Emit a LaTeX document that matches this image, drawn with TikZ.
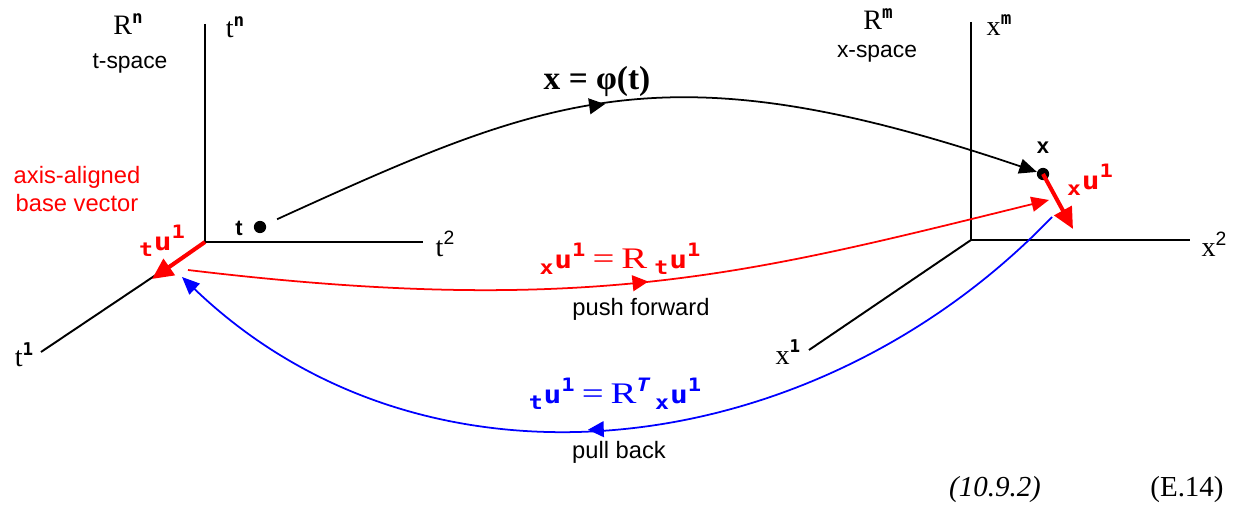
\documentclass[tikz,border=0pt]{standalone}
\usepackage{fontspec}
\setmainfont{Liberation Serif}
\newfontfamily\sansf{Liberation Sans}
\newfontfamily\monof{DejaVu Sans Mono}
\newfontfamily\wmono[FakeStretch=1.2]{DejaVu Sans Mono Bold}
\newfontfamily\wmonoit[FakeStretch=1.2]{DejaVu Sans Mono Bold Oblique}
\newfontfamily\wser[FakeStretch=1.3]{Liberation Serif}
\usetikzlibrary{arrows.meta,decorations.markings}
\newcommand\fs[1]{\fontsize{#1}{#1}\selectfont}
\newcommand\ubv[1]{\raisebox{-3.5pt}{\fs{11}\wmono #1}\kern0.5pt{\fs{14}\wmono u}\raisebox{7pt}{\fs{10.5}\wmono 1}}
\newcommand\supm[1]{\raisebox{6.5pt}{\fs{10}\monof\bfseries #1}}
\newcommand\eqR{{\fs{17}\wser R}}
\newcommand\eqEq{{\fs{17}\wser =}}
\begin{document}
\begin{tikzpicture}[x=0.02cm,y=-0.02cm,
  axis/.style={line width=1.1pt,black},
  conn/.style={line width=1pt},
  vecr/.style={line width=2.3pt,red,-{Triangle[length=12pt,width=11pt]}},
  endtip/.style={-{Triangle[length=10pt,width=8.5pt]}},
  midarrow/.style={postaction={decorate,decoration={markings,mark=at position #1 with {\arrow{Triangle[length=9pt,width=9pt]}}}}},
  sanslbl/.style={font=\sansf\fs{13.5}},
  axlbl/.style={font=\fs{16},inner sep=0pt},
  dotnode/.style={circle,fill=black,inner sep=0pt,minimum size=7pt}]
\useasboundingbox (0,0) rectangle (1241,510);
% ---------- t-space ----------
\coordinate (O1) at (205,242);
\coordinate (tn) at (205,24);
\coordinate (t2) at (423,242);
\coordinate (t1) at (41,352);
\draw[axis] (tn) -- (O1) -- (t2);
\draw[axis] (O1) -- (t1);
\node[axlbl] (ltn) at (235,27) {t\supm{n}};
\node[axlbl] (lt2) at (445,244) {t\raisebox{6.5pt}{\sansf\fs{11}2}};
\node[axlbl] (lt1) at (24,355) {t\supm{1}};
\node[axlbl] (lRn) at (128,24) {R\supm{n}};
\node[sanslbl,font=\sansf\fs{13}] (lts) at (130,63) {t-space};
\node[red,align=center,font=\sansf\fontsize{13.5}{16}\selectfont] (lav) at (77,189) {axis-aligned\\base vector};
\coordinate (tuend) at (152,279);
\draw[vecr] (O1) -- (tuend);
\node[red,inner sep=0pt] (ltu) at (162,241) {\ubv{t}};
\node[dotnode] (tdot) at (260,227) {};
\node[font=\sansf\bfseries\fs{12.5}] (ltl) at (239,228) {t};
% ---------- x-space ----------
\coordinate (O2) at (971,240);
\coordinate (xm) at (971,22);
\coordinate (x2) at (1190,240);
\coordinate (x1) at (809,350);
\draw[axis] (xm) -- (O2) -- (x2);
\draw[axis] (O2) -- (x1);
\node[axlbl] (lxm) at (999,25) {x\supm{m}};
\node[axlbl] (lx2) at (1214,244) {x\raisebox{6.5pt}{\sansf\fs{11}2}};
\node[axlbl] (lx1) at (788,352) {x\supm{1}};
\node[axlbl] (lRm) at (878,19) {R\supm{m}};
\node[sanslbl,font=\sansf\fs{13}] (lxs) at (877,54) {x-space};
\node[dotnode] (xdot) at (1043,174) {};
\node[font=\sansf\bfseries\fs{12.5}] (lxl) at (1043,148) {x};
\coordinate (xuend) at (1073,229);
\draw[vecr] (xdot.center) -- (xuend);
\node[red,inner sep=0pt] (lxu) at (1090,180) {\ubv{x}};
% ---------- mapping phi ----------
\draw[conn,endtip,midarrow=0.45,shorten <=7pt] (tdot) .. controls (550,95) and (665,46) .. (xdot);
\node[inner sep=0pt] (lphi) at (597,81) {\fs{19}\bfseries x = φ(t)};
% ---------- push forward ----------
\coordinate (pfs) at (188,270);
\coordinate (pfe) at (1049,200);
\draw[conn,red,endtip,midarrow=0.53] (pfs) .. controls (588,318) and (748,274) .. (pfe);
\node[red,inner sep=0pt] (lpf) at (620,259) {\ubv{x}\kern4pt\eqEq\kern4pt\eqR\kern4pt\ubv{t}};
\node[sanslbl] (lpfw) at (641,309) {push forward};
% ---------- pull back ----------
\coordinate (pbs) at (1052,217);
\coordinate (pbe) at (182,277);
\draw[conn,blue,endtip,midarrow=0.54] (pbs) .. controls (816,463) and (428,513) .. (pbe);
\node[blue,inner sep=0pt] (lpb) at (615,394) {\ubv{t}\kern4pt\eqEq\kern4pt\eqR\raisebox{7pt}{\fs{10.5}\wmonoit T}\kern3pt\ubv{x}};
\node[sanslbl] (lpbk) at (619,452) {pull back};
% ---------- equation numbers ----------
\node[font=\fs{16.5}\itshape] (eq1) at (995,490) {(10.9.2)};
\node[font=\fs{16.5}] (eq2) at (1187,490) {(E.14)};
\end{tikzpicture}
\end{document}
